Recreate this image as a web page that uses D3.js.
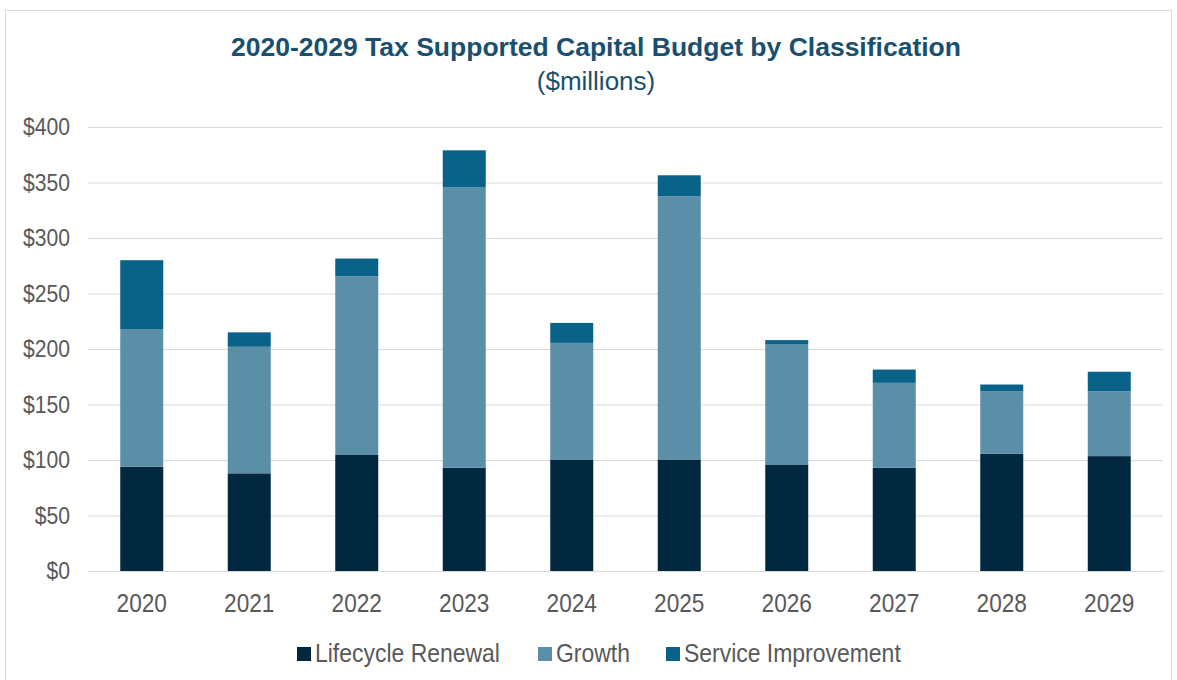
<!DOCTYPE html>
<html>
<head>
<meta charset="utf-8">
<script src="https://cdnjs.cloudflare.com/ajax/libs/d3/7.8.5/d3.min.js"></script>
<style>
  body { margin: 0; background: #fff; }
  text { font-family: "Liberation Sans", Arial, sans-serif; }
</style>
</head>
<body>
<div id="chart"></div>
<script>
// values ($millions)
var years = ['2020', '2021', '2022', '2023', '2024', '2025', '2026', '2027', '2028', '2029'];
var lifecycleRenewal = [94, 88, 104.5, 93, 100.5, 100.5, 95.5, 93, 105.5, 103.5];
var growth = [124, 114, 161, 252.5, 105, 237, 108.5, 76.5, 56.5, 58.5];
var serviceImprovement = [62, 13, 16, 33.5, 18, 19, 4, 12, 6, 17.5];
var yTicks = [0, 50, 100, 150, 200, 250, 300, 350, 400];

var seriesNames = ['Lifecycle Renewal', 'Growth', 'Service Improvement'];
var seriesColors = ['#022840', '#5b8fa8', '#0a6289'];

var containerWidth = 1177;
var containerHeight = 680;
var margin = {top: 127, right: 14, bottom: 109, left: 88};
var width = containerWidth - margin.left - margin.right;
var height = containerHeight - margin.top - margin.bottom;

var rows = years.map(function(y, i) {
    return {
        year: y,
        'Lifecycle Renewal': lifecycleRenewal[i],
        'Growth': growth[i],
        'Service Improvement': serviceImprovement[i]
    };
});

var stacked = d3.stack().keys(seriesNames)(rows);

var svg = d3.select('#chart').append('svg')
    .attr('width', containerWidth)
    .attr('height', containerHeight);

// outer frame
svg.append('rect')
    .attr('x', 5.5).attr('y', 10.5)
    .attr('width', 1166).attr('height', 700)
    .attr('fill', 'none')
    .attr('stroke', '#d9d9d9');

// titles
svg.append('text')
    .attr('x', 596).attr('y', 56)
    .attr('text-anchor', 'middle')
    .attr('font-size', 26.5).attr('font-weight', 'bold')
    .attr('fill', '#1a4f6e')
    .text('2020-2029 Tax Supported Capital Budget by Classification');

svg.append('text')
    .attr('x', 596).attr('y', 90)
    .attr('text-anchor', 'middle')
    .attr('font-size', 26)
    .attr('fill', '#1a4f6e')
    .text('($millions)');

var g = svg.append('g')
    .attr('transform', 'translate(' + margin.left + ',' + margin.top + ')');

var x = d3.scaleBand()
    .domain(years)
    .range([0, width])
    .paddingInner(0.6)
    .paddingOuter(0.3);

var y = d3.scaleLinear()
    .domain([0, 400])
    .range([height, 0]);

// gridlines + y labels (labels squeezed a little like the original)
var yAxis = d3.axisLeft(y)
    .tickValues(yTicks)
    .tickSize(-width)
    .tickPadding(20.5)
    .tickFormat(function(d) { return '$' + d; });

var yg = g.append('g')
    .attr('class', 'y axis')
    .call(yAxis);
yg.select('.domain').remove();
yg.selectAll('.tick line').attr('stroke', '#d9d9d9').attr('stroke-width', 1);
yg.selectAll('.tick text')
    .attr('font-size', 24)
    .attr('fill', '#595959')
    .attr('transform', 'scale(0.88,1)');

// bars
g.selectAll('.series')
    .data(stacked)
    .enter().append('g')
    .attr('class', 'series')
    .attr('fill', function(d, i) { return seriesColors[i]; })
    .selectAll('rect')
    .data(function(d) { return d; })
    .enter().append('rect')
    .attr('x', function(d) { return x(d.data.year); })
    .attr('width', x.bandwidth())
    .attr('y', function(d) { return y(d[1]); })
    .attr('height', function(d) { return y(d[0]) - y(d[1]); });

// x axis
var xAxis = d3.axisBottom(x).tickSize(0).tickPadding(22.5);
var xg = g.append('g')
    .attr('class', 'x axis')
    .attr('transform', 'translate(0,' + height + ')')
    .call(xAxis);
xg.select('.domain').attr('stroke', '#d9d9d9');
xg.selectAll('.tick text')
    .attr('font-size', 26)
    .attr('fill', '#595959')
    .attr('transform', 'scale(0.87,1)');

// legend
var legendX = [297, 538, 666];
var legend = svg.append('g').attr('class', 'legend');
seriesNames.forEach(function(name, i) {
    legend.append('rect')
        .attr('x', legendX[i]).attr('y', 647)
        .attr('width', 14).attr('height', 14)
        .attr('fill', seriesColors[i]);
    legend.append('text')
        .attr('transform', 'translate(' + (legendX[i] + 18) + ',662) scale(0.9,1)')
        .attr('font-size', 25.5)
        .attr('fill', '#595959')
        .text(name);
});
</script>
</body>
</html>
